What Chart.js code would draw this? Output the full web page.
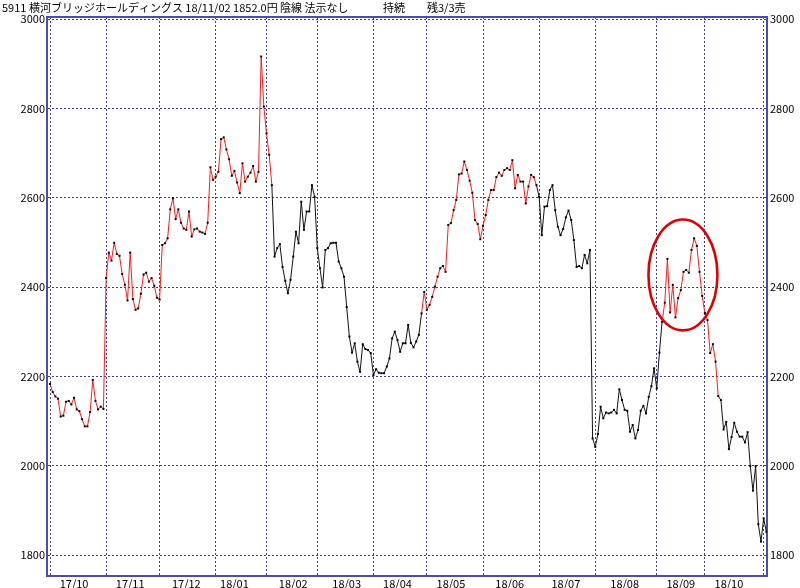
<!DOCTYPE html>
<html>
<head>
<meta charset="utf-8">
<script src="https://cdn.jsdelivr.net/npm/chart.js@4/dist/chart.umd.min.js"></script>
<style>
  html, body { margin: 0; padding: 0; background: #fff; }
</style>
</head>
<body>
<canvas id="chart" width="800" height="588"></canvas>
<script>
// daily closes, 2017/10/02 .. 2018/11/02 (one row per month)
const closes = [
  2183, 2165, 2155, 2150, 2110, 2112, 2143, 2145, 2137, 2152, 2126, 2122, 2104, 2088, 2088, 2120, 2192, 2145, 2126, 2132, 2127,
  2420, 2477, 2459, 2499, 2474, 2470, 2429, 2405, 2370, 2477, 2373, 2349, 2352, 2385, 2428, 2432, 2412, 2420, 2403, 2376,
  2372, 2494, 2498, 2509, 2574, 2599, 2552, 2574, 2544, 2531, 2528, 2569, 2513, 2529, 2531, 2524, 2522, 2519, 2544, 2668, 2640,
  2647, 2658, 2731, 2735, 2708, 2686, 2649, 2660, 2634, 2610, 2677, 2636, 2647, 2656, 2671, 2636, 2658, 2916, 2804,
  2744, 2696, 2628, 2468, 2487, 2496, 2445, 2414, 2386, 2416, 2468, 2524, 2498, 2591, 2528, 2569, 2569, 2628, 2602,
  2487, 2442, 2399, 2483, 2487, 2498, 2499, 2499, 2457, 2442, 2423, 2355, 2289, 2253, 2274, 2233, 2210, 2272, 2261, 2259, 2252,
  2203, 2216, 2208, 2207, 2207, 2222, 2240, 2285, 2300, 2281, 2255, 2274, 2274, 2315, 2275, 2265, 2278, 2293, 2341, 2389,
  2349, 2360, 2378, 2401, 2423, 2442, 2447, 2434, 2539, 2543, 2572, 2595, 2652, 2654, 2681, 2662, 2638, 2611, 2550, 2541, 2507,
  2537, 2561, 2595, 2617, 2617, 2646, 2656, 2649, 2662, 2666, 2662, 2684, 2621, 2651, 2636, 2636, 2587, 2625, 2651, 2646, 2628,
  2602, 2516, 2580, 2581, 2617, 2628, 2572, 2535, 2516, 2530, 2556, 2571, 2550, 2505, 2445, 2447, 2442, 2472, 2453, 2483, 2061,
  2042, 2071, 2132, 2106, 2119, 2117, 2119, 2125, 2117, 2171, 2147, 2125, 2123, 2076, 2091, 2061, 2080, 2123, 2134, 2117, 2154, 2178, 2218,
  2173, 2253, 2322, 2365, 2463, 2343, 2405, 2332, 2375, 2393, 2434, 2438, 2432, 2483, 2509, 2492, 2434, 2380,
  2342, 2326, 2252, 2272, 2233, 2156, 2147, 2081, 2098, 2037, 2064, 2096, 2076, 2065, 2065, 2052, 2075, 1999, 1944, 1999, 1869, 1830, 1882, 1852
];

// index of first trading day of each month (grid lines)
const monthStarts = [0, 21, 41, 62, 81, 100, 121, 141, 162, 183, 204, 227, 245, 267];
const monthLabels = ['17/10', '17/11', '17/12', '18/01', '18/02', '18/03', '18/04', '18/05', '18/06', '18/07', '18/08', '18/09', '18/10'];
const monthLabelIdx = [9, 30, 51, 69, 91, 111, 130, 150, 172, 193, 215, 236, 254];

const priceTicks = [1800, 2000, 2200, 2400, 2600, 2800, 3000];

// stretches drawn in red (first and last index)
const redSpans = [[0, 83], [139, 182], [229, 250]];

// circled area: centre (day index, price) and radii
const circle = { x: 236.8, y: 2427, rx: 12.9, ry: 124 };

const titleText = '5911 横河ブリッジホールディングス 18/11/02 1852.0円 陰線 法示なし';

const gridColor = '#3a3ab0';
const jpFont = '"Noto Sans CJK JP", sans-serif';

function isRed(i0, i1) {
    return redSpans.some(s => i0 >= s[0] && i1 <= s[1]);
}

const framePlugin = {
    id: 'frame',
    beforeDatasetsDraw(chart) {
        const a = chart.chartArea;
        const c = chart.ctx;
        c.save();
        c.strokeStyle = '#4a4ab8';
        c.lineWidth = 2;
        c.strokeRect(a.left - 1, a.top, a.right - a.left + 1, a.bottom - a.top);
        c.restore();
    },
    afterDraw(chart) {
        const c = chart.ctx;
        c.save();
        c.fillStyle = '#000';
        c.font = '11px ' + jpFont;
        c.textBaseline = 'middle';
        c.fillText(titleText, 2, 8);
        c.fillText('持続', 383, 8);
        c.fillText('残3/3売', 427, 8);

        // red ring
        const xs = chart.scales.x, ys = chart.scales.y;
        const cx = xs.getPixelForValue(circle.x);
        const cy = ys.getPixelForValue(circle.y);
        const rx = Math.abs(xs.getPixelForValue(circle.x + circle.rx) - cx);
        const ry = Math.abs(ys.getPixelForValue(circle.y + circle.ry) - cy);
        c.strokeStyle = '#e00000';
        c.lineWidth = 2.6;
        c.beginPath();
        c.ellipse(cx, cy, rx, ry, 0, 0, Math.PI * 2);
        c.stroke();
        c.restore();
    }
};

const ctx = document.getElementById('chart').getContext('2d');

new Chart(ctx, {
    type: 'line',
    data: {
        datasets: [{
            data: closes.map((v, i) => ({ x: i, y: v })),
            borderWidth: 1,
            borderColor: '#111',
            tension: 0,
            pointStyle: 'rect',
            pointRadius: 1.4,
            pointBorderWidth: 0,
            pointBackgroundColor: '#000',
            segment: {
                borderColor: c => isRed(c.p0DataIndex, c.p1DataIndex) ? '#ff1a1a' : '#111'
            }
        }]
    },
    options: {
        responsive: false,
        animation: false,
        devicePixelRatio: 1,
        layout: { padding: { top: 17, left: 0, right: 0, bottom: 0 } },
        plugins: {
            legend: { display: false },
            tooltip: { enabled: false }
        },
        scales: {
            x: {
                type: 'linear',
                min: -0.75,
                max: 268.25,
                afterBuildTicks: axis => {
                    axis.ticks = monthStarts.concat(monthLabelIdx)
                        .sort((a, b) => a - b)
                        .map(v => ({ value: v }));
                },
                afterFit: axis => { axis.height = 12; },
                grid: {
                    drawTicks: false,
                    lineWidth: 1,
                    color: c => (c.tick && monthStarts.includes(c.tick.value)) ? gridColor : 'rgba(0,0,0,0)'
                },
                border: { display: false, dash: [2, 2] },
                ticks: {
                    autoSkip: false,
                    maxRotation: 0,
                    padding: 1,
                    color: '#000',
                    font: { family: jpFont, size: 11 },
                    callback: v => {
                        const k = monthLabelIdx.indexOf(v);
                        return k >= 0 ? monthLabels[k] : '';
                    }
                }
            },
            y: {
                position: 'left',
                min: 1753,
                max: 3004.5,
                afterBuildTicks: axis => { axis.ticks = priceTicks.map(v => ({ value: v })); },
                afterFit: axis => { axis.width = 48; },
                grid: { drawTicks: false, color: gridColor, lineWidth: 1 },
                border: { display: false, dash: [2, 2] },
                ticks: {
                    padding: 3,
                    color: '#000',
                    font: { family: jpFont, size: 11 },
                    callback: v => String(v)
                }
            },
            y2: {
                position: 'right',
                min: 1753,
                max: 3004.5,
                afterBuildTicks: axis => { axis.ticks = priceTicks.map(v => ({ value: v })); },
                afterFit: axis => { axis.width = 33; },
                grid: { display: false, drawTicks: false },
                border: { display: false },
                ticks: {
                    padding: 3,
                    color: '#000',
                    font: { family: jpFont, size: 11 },
                    callback: v => String(v)
                }
            }
        }
    },
    plugins: [framePlugin]
});
</script>
</body>
</html>
